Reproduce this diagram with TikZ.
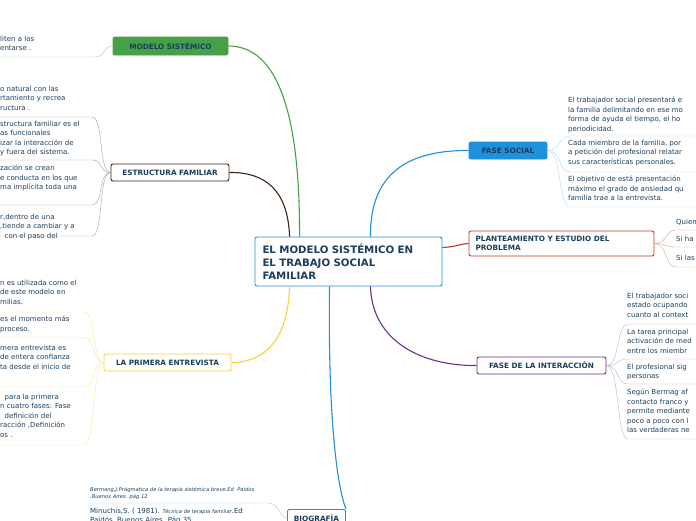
\documentclass[tikz,border=0pt]{standalone}
\usepackage{fontspec}
\setmainfont{DejaVu Sans}
\usetikzlibrary{positioning}
\definecolor{ink}{HTML}{1B3E5E}
\definecolor{cgreen}{HTML}{46A046}
\definecolor{cbrown}{HTML}{3B2314}
\definecolor{cyellow}{HTML}{F2D43C}
\definecolor{cblue}{HTML}{1E90DC}
\definecolor{cred}{HTML}{C0392B}
\definecolor{cpurple}{HTML}{6B2F8E}
\tikzset{
  topic/.style = {rectangle, rounded corners = 2, draw, line width = 0.9,
    fill = white, text = ink, font = \fontsize{7.3}{8.4}\selectfont\bfseries,
    inner xsep = 5, inner ysep = 3},
  leaf/.style = {inner sep = 0, align = left, text = ink,
    font = \fontsize{7}{9.4}\selectfont},
  branch/.style = {line width = 1.1}
}
\begin{document}
\begin{tikzpicture}[x = 1pt, y = -1pt]
  \useasboundingbox (0, 0) rectangle (696, 520);

  % central topic
  \node [topic, draw = cblue, minimum width = 187, minimum height = 49,
    align = left, font = \fontsize{10.2}{13}\selectfont\bfseries,
    text width = 172] (root) at (348.5, 261.5)
    {EL MODELO SISTÉMICO EN\\EL TRABAJO SOCIAL\\FAMILIAR};

  % main topics
  \node [topic, draw = cgreen, fill = cgreen, minimum width = 115,
    minimum height = 18] (modelo) at (170.5, 46) {MODELO SISTÉMICO};
  \node [topic, draw = cbrown, minimum width = 118,
    minimum height = 17] (estructura) at (170, 172.5) {ESTRUCTURA FAMILIAR};
  \node [topic, draw = cyellow, minimum width = 127,
    minimum height = 17] (entrevista) at (167.5, 362.5) {LA PRIMERA ENTREVISTA};
  \node [topic, draw = cblue, minimum width = 58,
    minimum height = 17, anchor = north west] (biografia) at (287, 509) {BIOGRAFÍA};
  \node [topic, draw = cblue, fill = cblue, minimum width = 78,
    minimum height = 17] (social) at (508, 150.5) {FASE SOCIAL};
  \node [topic, draw = cred, minimum width = 185, minimum height = 25,
    align = left, text width = 172] (problema) at (561.5, 243.5)
    {PLANTEAMIENTO Y ESTUDIO DEL\\PROBLEMA};
  \node [topic, draw = cpurple, minimum width = 129,
    minimum height = 17] (interaccion) at (541.5, 365.5) {FASE DE LA INTERACCIÓN};

  % branches
  \draw [branch, cgreen] (root.north west) ++(45, 0) .. controls (300, 120) and (280, 46) .. (modelo.east);
  \draw [branch, cbrown] (root.north west) ++(35, 0) .. controls (288, 190) and (265, 172) .. (estructura.east);
  \draw [branch, cyellow] (root.south west) ++(35, 0) .. controls (288, 340) and (265, 362) .. (entrevista.east);
  \draw [branch, cblue] (root.south west) ++(75, 0) .. controls (328, 400) and (335, 480) .. (biografia.north east);
  \draw [branch, cblue] (root.north east) ++(-72, 0) .. controls (370, 180) and (400, 150) .. (social.west);
  \draw [branch, cred] (root.east) ++(0, -14) .. controls (455, 247) and (460, 244) .. (problema.west);
  \draw [branch, cpurple] (root.south east) ++(-72, 0) .. controls (372, 340) and (420, 366) .. (interaccion.west);

  % modelo sistemico
  \node [leaf, anchor = north west] (m1) at (0, 36) {liten a los\\entarse .};
  \draw [cgreen!50] (0, 57) -- (95, 57) .. controls (105, 57) and (103, 46) .. (modelo.west);

  % estructura familiar
  \node [leaf, anchor = north west] (e1) at (0, 86) {o natural con las\\rtamiento y recrea\\ructura .};
  \node [leaf, anchor = north west] (e2) at (0, 121) {structura familiar es el\\as funcionales\\izar la interacción de\\y fuera del sistema.};
  \node [leaf, anchor = north west] (e3) at (0, 165) {zación se crean\\e conducta en los que\\ma implícita toda una};
  \node [leaf, anchor = north west] (e4) at (0, 214) {r,dentro de una\\,tiende a cambiar y a\\ \ \ con el paso del};
  \foreach \b in {117, 160, 205, 236}
    \draw [cbrown!45] (0, \b) -- (92, \b) .. controls (104, \b) and (98, 172) .. (estructura.west);

  % primera entrevista
  \node [leaf, anchor = north west] (p1) at (0, 280) {n es utilizada como el\\ de este modelo en\\milias.};
  \node [leaf, anchor = north west] (p2) at (0, 316) {es el momento más\\proceso.};
  \node [leaf, anchor = north west] (p3) at (0, 345) {mera entrevista es\\ de entera confianza\\ta desde el inicio de};
  \node [leaf, anchor = north west] (p4) at (0, 394) {\ \ para la primera\\n cuatro fases: Fase\\\ \ definición del\\racción ,Definición\\os .};
  \foreach \b in {312, 338, 387, 445}
    \draw [cyellow!55] (0, \b) -- (84, \b) .. controls (96, \b) and (92, 362) .. (entrevista.west);

  % biografia
  \node [leaf, anchor = north west, font = \fontsize{5.2}{7}\selectfont\itshape] (b1) at (90, 487)
    {Bermang,J.Prágmatica de la terapia sistémica breve.Ed\ \ Paidos\\,Buenos Aires. pág 12};
  \node [leaf, anchor = north west] (b2) at (90, 508)
    {Minuchis,S. ( 1981). {\fontsize{5.2}{7}\selectfont\itshape Técnica de terapia familiar}.Ed\\Paidós, Buenos Aires. Pág 35};
  \draw [cblue!45] (88, 503) -- (268, 503) .. controls (280, 503) and (278, 517) .. (biografia.west);

  % fase social
  \node [leaf, anchor = north west] (s1) at (568, 97) {El trabajador social presentará e\\la familia delimitando en ese mo\\forma de ayuda el tiempo, el ho\\periodicidad.};
  \node [leaf, anchor = north west] (s2) at (568, 140) {Cada miembro de la familia, por\\a petición del profesional relatar\\sus características personales.};
  \node [leaf, anchor = north west] (s3) at (568, 176) {El objetivo de está presentación\\máximo el grado de ansiedad qu\\familia trae a la entrevista.};
  \foreach \b in {136, 172, 207}
    \draw [cblue!35] (696, \b) -- (570, \b) .. controls (558, \b) and (562, 150) .. (social.east);

  % planteamiento
  \node [leaf, anchor = north west] (q1) at (676, 219) {Quien};
  \node [leaf, anchor = north west] (q2) at (676, 236) {Si ha};
  \node [leaf, anchor = north west] (q3) at (676, 255) {Si las};
  \foreach \b in {230, 247, 267}
    \draw [cred!50] (696, \b) -- (676, \b) .. controls (664, \b) and (668, 244) .. (problema.east);

  % fase de la interaccion
  \node [leaf, anchor = north west] (i1) at (627, 293) {El trabajador soci\\estado ocupando\\cuanto al context};
  \node [leaf, anchor = north west] (i2) at (627, 329) {La tarea principal\\activación de med\\entre los miembr};
  \node [leaf, anchor = north west] (i3) at (627, 364) {El profesional sig\\personas};
  \node [leaf, anchor = north west] (i4) at (627, 389) {Según Bermag af\\contacto franco y\\permite mediante\\poco a poco con l\\las verdaderas ne};
  \foreach \b in {324, 359, 384, 439}
    \draw [cpurple!40] (696, \b) -- (628, \b) .. controls (616, \b) and (620, 366) .. (interaccion.east);
\end{tikzpicture}
\end{document}
